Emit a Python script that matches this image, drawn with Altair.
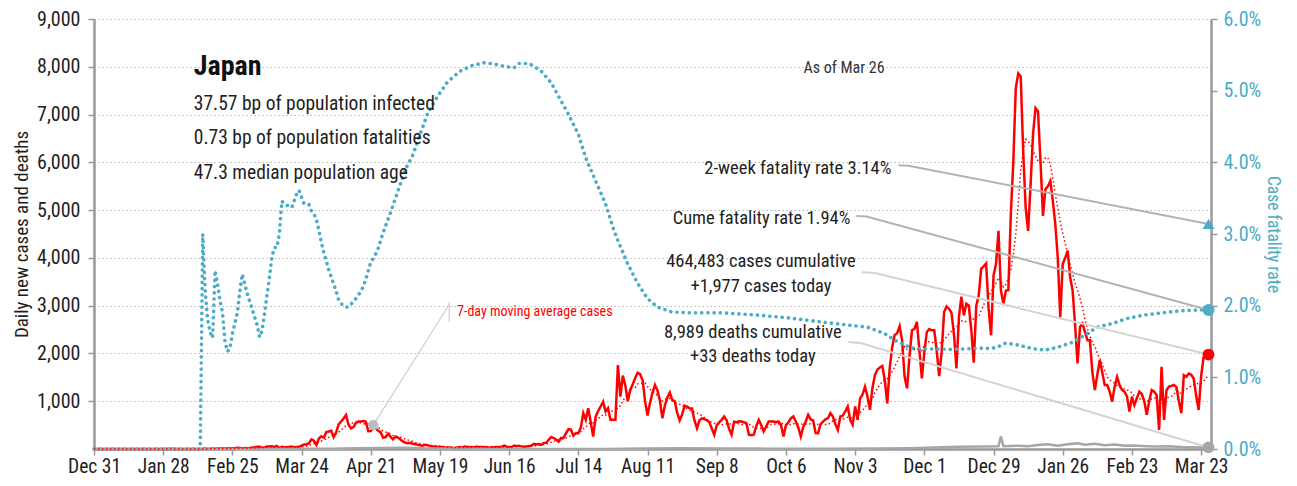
import altair as alt
import pandas as pd

FONT = "Liberation Sans Narrow, Roboto Condensed, DejaVu Sans Condensed, Arial Narrow, sans-serif"
RED = "#ff0000"
BLUE = "#4bacc6"
DGRAY = "#a6a6a6"
INK = "#1e1e1e"
BASE = pd.Timestamp("2019-12-31")

# ---------------- daily new cases ----------------
cases_2019_12 = [0]
cases_2020_01 = [0, 0, 0, 0, 0, 0, 0, 0, 0, 0, 0, 0, 0, 0, 1, 0, 0, 0, 0, 0, 0, 0, 0, 1, 1, 0, 0, 1, 3, 2, 3]
cases_2020_02 = [3, 1, 1, 1, 1, 0, 0, 0, 0, 1, 0, 1, 3, 9, 2, 5, 8, 6, 13, 11, 12, 8, 16, 12, 14, 14, 24, 21, 12]
cases_2020_03 = [19, 14, 16, 33, 34, 49, 46, 27, 33, 54, 52, 55, 42, 64, 15, 44, 39, 35, 44, 50, 35, 40, 45, 71,
                 93, 96, 123, 200, 173, 87, 220]
cases_2020_04 = [266, 235, 353, 367, 383, 252, 351, 515, 576, 639, 714, 507, 430, 457, 549, 574, 576, 584, 568, 373,
                 378, 450, 430, 380, 346, 235, 250, 320, 260, 200]
cases_2020_05 = [260, 240, 200, 160, 130, 120, 130, 110, 100, 90, 80, 70, 90, 80, 60, 50, 50, 40, 40, 40, 30, 30, 30,
                 20, 20, 30, 40, 30, 50, 40, 40]
cases_2020_06 = [36, 40, 48, 40, 40, 44, 37, 25, 38, 39, 40, 40, 50, 72, 48, 42, 41, 70, 58, 68, 55, 46, 53, 56, 73,
                 106, 97, 106, 86, 127]
cases_2020_07 = [130, 194, 250, 230, 200, 156, 230, 235, 330, 415, 405, 280, 335, 330, 450, 750, 610, 855, 560, 262,
                 680, 795, 890, 990, 785, 855, 610, 610, 610, 1755, 1095]
cases_2020_08 = [1536, 1331, 1000, 1235, 1354, 1485, 1595, 1565, 1440, 1001, 700, 966, 1176, 1340, 1233, 1012, 645,
                 909, 1072, 1180, 1030, 1000, 756, 600, 724, 907, 888, 852, 849, 599, 432]
cases_2020_09 = [600, 640, 630, 600, 560, 430, 300, 500, 560, 610, 680, 600, 420, 300, 570, 560, 580, 575, 560, 540,
                 300, 290, 300, 480, 610, 500, 366, 470, 575, 575]
cases_2020_10 = [575, 560, 575, 500, 262, 500, 560, 640, 680, 575, 450, 262, 460, 575, 715, 620, 600, 333, 330, 520,
                 575, 620, 645, 750, 680, 520, 400, 680, 700, 785, 890]
cases_2020_11 = [610, 505, 890, 610, 1060, 1139, 1305, 1100, 820, 1277, 1547, 1660, 1706, 1737, 1439, 955, 1699,
                 2135, 2388, 2424, 2570, 2275, 1518, 1270, 1945, 2485, 2514, 2660, 2065, 1480]
cases_2020_12 = [2030, 2450, 2511, 2485, 2485, 2066, 1525, 2028, 2865, 2985, 2935, 2850, 2396, 1685, 2760, 3190,
                 2795, 3040, 2998, 2494, 1805, 2995, 3210, 3770, 3823, 3885, 2948, 2380, 3630, 3870, 4565]
cases_2021_01 = [3315, 3040, 3315, 3325, 4915, 6001, 7550, 7860, 7795, 6230, 5050, 4565, 5540, 6604, 7135, 7065,
                 6025, 4880, 5435, 5500, 5610, 5190, 4705, 4000, 2760, 3870, 4000, 4150, 3595, 3315, 2600]
cases_2021_02 = [1790, 2555, 2625, 2450, 2275, 2275, 1600, 1235, 1560, 1860, 1600, 1340, 1340, 1200, 990, 1305,
                 1510, 1340, 1235, 1200, 1100, 785, 1095, 920, 1060, 1200, 1150, 1000]
cases_2021_03 = [715, 1000, 1235, 1200, 1130, 400, 1720, 610, 1235, 1305, 1320, 1340, 1300, 1000, 750, 1545, 1510,
                 1580, 1554, 1471, 1118, 816, 1518, 1919, 1990, 1977]

month_starts = ["2019-12-31", "2020-01-01", "2020-02-01", "2020-03-01", "2020-04-01", "2020-05-01", "2020-06-01",
                "2020-07-01", "2020-08-01", "2020-09-01", "2020-10-01", "2020-11-01", "2020-12-01", "2021-01-01",
                "2021-02-01", "2021-03-01"]
month_cases = [cases_2019_12, cases_2020_01, cases_2020_02, cases_2020_03, cases_2020_04, cases_2020_05,
               cases_2020_06, cases_2020_07, cases_2020_08, cases_2020_09, cases_2020_10, cases_2020_11,
               cases_2020_12, cases_2021_01, cases_2021_02, cases_2021_03]

# ---------------- daily deaths (sampled) ----------------
deaths_dates = ["2019-12-31", "2020-02-13", "2020-03-01", "2020-03-20", "2020-04-05", "2020-04-15", "2020-04-25",
                "2020-05-05", "2020-05-15", "2020-05-25", "2020-06-10", "2020-07-01", "2020-07-25", "2020-08-10",
                "2020-08-25", "2020-09-10", "2020-09-25", "2020-10-10", "2020-10-25", "2020-11-10", "2020-11-25",
                "2020-12-05", "2020-12-15", "2020-12-25", "2020-12-31", "2021-01-01", "2021-01-02", "2021-01-08",
                "2021-01-12", "2021-01-16", "2021-01-20", "2021-01-24", "2021-01-28", "2021-02-01", "2021-02-04",
                "2021-02-08", "2021-02-12", "2021-02-16", "2021-02-20", "2021-02-24", "2021-03-01", "2021-03-05",
                "2021-03-10", "2021-03-15", "2021-03-20", "2021-03-26"]
deaths_vals = [0, 1, 2, 3, 6, 15, 20, 25, 12, 8, 3, 1, 2, 8, 14, 12, 8, 6, 6, 8, 15, 30, 45, 50, 55, 260, 60, 70,
               60, 85, 100, 70, 100, 120, 90, 110, 80, 95, 70, 75, 60, 50, 55, 40, 35, 33]

# ---------------- case fatality rate (%), by day since Dec 31 2019 ----------------
cfr_day = [0, 43] + list(range(44, 118)) + [
    120, 123, 126, 129, 131, 135, 139, 143, 148, 153, 158, 162, 166, 170, 172, 176, 178, 181, 185, 188,
    192, 196, 199, 203, 207, 210, 212, 216, 220, 224, 228, 234, 242, 254, 268, 281, 295, 305, 313, 320,
    324, 328, 332, 346, 355, 360, 363, 366, 369, 374, 380, 385, 390, 396, 401, 406, 412, 418, 425, 432,
    440, 448, 451]
cfr_pct = [0, 0,
           3.0, 2.2, 1.8, 1.63, 1.55, 2.49, 2.3, 2.07, 1.9, 1.5, 1.36, 1.4, 1.61, 1.75, 1.9, 2.2, 2.44, 2.3,
           2.17, 2.06, 1.95, 1.84, 1.73, 1.56, 1.65, 1.89, 2.15, 2.40, 2.68, 2.81, 2.81, 3.0, 3.46, 3.42, 3.40,
           3.39, 3.37, 3.46, 3.56, 3.61, 3.51, 3.42, 3.42, 3.41, 3.32, 3.28, 3.2, 3.05, 2.88, 2.74, 2.62, 2.5,
           2.4, 2.3, 2.2, 2.08, 2.03, 2.0, 1.98, 1.98, 2.02, 2.06, 2.1, 2.15, 2.2, 2.27, 2.37, 2.49, 2.61, 2.66,
           2.72, 2.8, 2.91, 3.02,
           3.3, 3.6, 3.9, 4.1, 4.3, 4.68, 4.92, 5.12, 5.27, 5.35, 5.39, 5.37, 5.34, 5.32, 5.38, 5.38, 5.34,
           5.27, 5.11, 4.92, 4.67, 4.39, 4.06, 3.74, 3.42, 3.09, 2.91, 2.58, 2.31, 2.10, 1.98, 1.91, 1.90, 1.90,
           1.87, 1.83, 1.77, 1.73, 1.70, 1.61, 1.52, 1.45, 1.40, 1.39, 1.40, 1.41, 1.40, 1.43, 1.48, 1.45, 1.40,
           1.38, 1.42, 1.49, 1.59, 1.70, 1.75, 1.82, 1.87, 1.90, 1.93, 1.94, 1.94]

two_week_cfr = 3.14
cume_cfr = 1.94

x_tick_dates = ["2019-12-31", "2020-01-28", "2020-02-25", "2020-03-24", "2020-04-21", "2020-05-19", "2020-06-16",
                "2020-07-14", "2020-08-11", "2020-09-08", "2020-10-06", "2020-11-03", "2020-12-01", "2020-12-29",
                "2021-01-26", "2021-02-23", "2021-03-23"]
x_tick_labels = ["Dec 31", "Jan 28", "Feb 25", "Mar 24", "Apr 21", "May 19", "Jun 16", "Jul 14", "Aug 11",
                 "Sep 8", "Oct 6", "Nov 3", "Dec 1", "Dec 29", "Jan 26", "Feb 23", "Mar 23"]
left_ticks = [1000, 2000, 3000, 4000, 5000, 6000, 7000, 8000, 9000]
right_ticks = [0, 0.01, 0.02, 0.03, 0.04, 0.05, 0.06]


def days_since(dates):
    return [(pd.Timestamp(d) - BASE) / pd.Timedelta(days=1) for d in dates]


# ---------------- tables ----------------
frames = []
for start, vals in zip(month_starts, month_cases):
    frames.append(pd.DataFrame({"date": pd.date_range(start, periods=len(vals), freq="D"), "cases": vals}))
df = pd.concat(frames, ignore_index=True)
df["day"] = days_since(df["date"])
df["ma"] = df["cases"].rolling(7, min_periods=1).mean()
df = df[["day", "cases", "ma"]]

deaths_df = pd.DataFrame({"day": days_since(deaths_dates), "deaths": deaths_vals})

n = min(len(cfr_day), len(cfr_pct))
cfr_df = pd.DataFrame({"day": cfr_day[:n], "cfr": [p / 100 for p in cfr_pct[:n]]})

last_day = float(df["day"].iloc[-1])
RATIO = 9000 / 0.06  # left-axis units per unit of fatality rate

# connector lines (group, order, day offset, left-axis value, colour)
conn_rows = [
    ("a", 0, 325.5, 5940, "#b3b3b3"), ("a", 1, 329.6, 5930, "#b3b3b3"),
    ("a", 2, last_day, two_week_cfr / 100 * RATIO, "#b3b3b3"),
    ("b", 0, 308.5, 4878, "#b3b3b3"), ("b", 1, 312.6, 4868, "#b3b3b3"),
    ("b", 2, last_day, cume_cfr / 100 * RATIO, "#b3b3b3"),
    ("c", 0, 310.7, 3698, "#d4d4d4"), ("c", 1, 316.1, 3685, "#d4d4d4"),
    ("c", 2, last_day, cases_2021_03[-1], "#d4d4d4"),
    ("d", 0, 305.3, 2240, "#d4d4d4"), ("d", 1, 310.6, 2213, "#d4d4d4"),
    ("d", 2, last_day, deaths_vals[-1], "#d4d4d4"),
]
conn_df = pd.DataFrame([{"grp": g, "ord": o, "day": d, "v": v, "col": c} for g, o, d, v, c in conn_rows])

apr22 = days_since(["2020-04-22"])[0]
ma_apr22 = float(df.loc[df["day"] == apr22, "ma"].iloc[0])
ptr_df = pd.DataFrame([
    {"grp": "diag", "ord": 0, "day": apr22, "v": ma_apr22},
    {"grp": "diag", "ord": 1, "day": 143.75, "v": 3025},
    {"grp": "bar", "ord": 0, "day": 143.75, "v": 3073},
    {"grp": "bar", "ord": 1, "day": 143.75, "v": 2657},
])
dot_df = pd.DataFrame({"day": [apr22], "v": [ma_apr22]})

end_left = pd.DataFrame({"day": [last_day, last_day], "v": [cases_2021_03[-1], deaths_vals[-1]],
                         "col": [RED, DGRAY]})
end_right = pd.DataFrame({"day": [last_day, last_day], "cfr": [two_week_cfr / 100, cume_cfr / 100],
                          "shape": ["triangle-up", "circle"]})

title_df = pd.DataFrame({"day": [40.4], "v": [7835], "t": ["Japan"]})
info_df = pd.DataFrame({"day": [40.4] * 3, "v": [7100, 6377, 5649],
                        "t": ["37.57 bp of population infected", "0.73 bp of population fatalities",
                              "47.3 median population age"]})
asof_df = pd.DataFrame({"day": [287.1], "v": [7862], "t": ["As of Mar 26"]})
right_txt_df = pd.DataFrame({"day": [322.7, 306.1], "v": [5759, 4712],
                             "t": ["2-week fatality rate 3.14%", "Cume fatality rate 1.94%"]})
center_txt_df = pd.DataFrame({"day": [269.9, 269.9, 266.6, 266.6],
                              "v": [3802, 3281, 2324, 1824],
                              "t": ["464,483 cases cumulative", "+1,977 cases today",
                                    "8,989 deaths cumulative", "+33 deaths today"]})
ma_lbl_df = pd.DataFrame({"day": [146.9], "v": [2775], "t": ["7-day moving average cases"]})

# ---------------- scales & axes ----------------
X_SCALE = alt.Scale(domain=[0, 452], nice=False, zero=False)
Y_SCALE = alt.Scale(domain=[0, 9000], nice=False)
R_SCALE = alt.Scale(domain=[0, 0.06], nice=False)

x_vals = days_since(x_tick_dates)
label_array = "[" + ", ".join(f"'{lab}'" for lab in x_tick_labels) + "]"
x_axis = alt.Axis(values=x_vals, labelExpr=f"{label_array}[round(datum.value / 28)]", title=None,
                  labelFontSize=19.5, labelColor=INK, labelPadding=2, labelFlush=False, labelOverlap=False,
                  tickColor="#999", tickSize=6, tickWidth=1.5, domainColor="#999", domainWidth=2.5, grid=False)
y_axis = alt.Axis(values=left_ticks, format=",d", title="Daily new cases and deaths", titleFontSize=19,
                  titleFontWeight="normal", titleColor=INK, titlePadding=5, labelFontSize=20, labelColor=INK,
                  labelPadding=8, tickSize=6, tickColor="#999", tickWidth=1.5, domainColor="#999",
                  domainWidth=2.5, grid=True, gridColor="#b8b8b8", gridDash=[1.5, 2.5], gridWidth=1.2)
r_axis = alt.Axis(orient="right", values=right_ticks, format=".1%", title="Case fatality rate", titleFontSize=17.5,
                  titleFontWeight="normal", titleColor=BLUE, titlePadding=3, labelFontSize=20, labelColor=BLUE,
                  labelPadding=6, tickSize=6, tickColor="#999", tickWidth=1.5, domainColor="#999",
                  domainWidth=2.5, grid=False)

# every layer carries the identical x axis so that the shared axis merges cleanly
bx = alt.X("day:Q", scale=X_SCALE, axis=x_axis)


def ly(field):
    return alt.Y(f"{field}:Q", scale=Y_SCALE, axis=None)


deaths_line = alt.Chart(deaths_df).mark_line(color=DGRAY, strokeWidth=2.5).encode(x=bx, y=ly("deaths"))
ma_line = alt.Chart(df).mark_line(color=RED, strokeWidth=1.5, strokeDash=[1.5, 2.5]).encode(x=bx, y=ly("ma"))
cases_line = alt.Chart(df).mark_line(color=RED, strokeWidth=2.5).encode(
    x=bx, y=alt.Y("cases:Q", scale=Y_SCALE, axis=y_axis))

conn = alt.Chart(conn_df).mark_line(strokeWidth=2).encode(
    x=bx, y=ly("v"), detail="grp:N", order="ord:Q", color=alt.Color("col:N", scale=None))
ptr = alt.Chart(ptr_df).mark_line(strokeWidth=1.2, color="#cfcfcf").encode(
    x=bx, y=ly("v"), detail="grp:N", order="ord:Q")
dot = alt.Chart(dot_df).mark_circle(size=110, color="#bdbdbd", opacity=1).encode(x=bx, y=ly("v"))
end_l = alt.Chart(end_left).mark_circle(size=140, opacity=1).encode(
    x=bx, y=ly("v"), color=alt.Color("col:N", scale=None))


def txt(data, **kw):
    return alt.Chart(data).mark_text(font=FONT, baseline="alphabetic", **kw).encode(x=bx, y=ly("v"), text="t:N")


t_title = txt(title_df, align="left", fontSize=28, fontWeight="bold", color="#111")
t_info = txt(info_df, align="left", fontSize=19.5, color=INK)
t_asof = txt(asof_df, align="left", fontSize=16, color="#333")
t_right = txt(right_txt_df, align="right", fontSize=18.5, color=INK)
t_center = txt(center_txt_df, align="center", fontSize=18.5, color=INK)
t_ma = txt(ma_lbl_df, align="left", fontSize=14, color=RED)

cfr_line = alt.Chart(cfr_df).mark_line(color=BLUE, strokeWidth=3.6, strokeDash=[0.1, 6.1], strokeCap="round").encode(
    x=bx, y=alt.Y("cfr:Q", scale=R_SCALE, axis=r_axis))
end_r = alt.Chart(end_right).mark_point(filled=True, opacity=1, size=140, color=BLUE).encode(
    x=bx, y=alt.Y("cfr:Q", scale=R_SCALE, axis=None), shape=alt.Shape("shape:N", scale=None))

chart = alt.layer(
    cases_line, cfr_line, deaths_line, ma_line, conn, ptr, dot, t_title, t_info, t_asof, t_right, t_center,
    t_ma, end_l, end_r
).resolve_scale(y="independent").properties(
    width=1117, height=430,
    autosize=alt.AutoSizeParams(type="none"),
    padding={"left": 86, "top": 11, "right": 78, "bottom": 29},
).configure(font=FONT).configure_view(stroke=None)

chart.save("out.html", embed_options={"renderer": "svg", "actions": False})
